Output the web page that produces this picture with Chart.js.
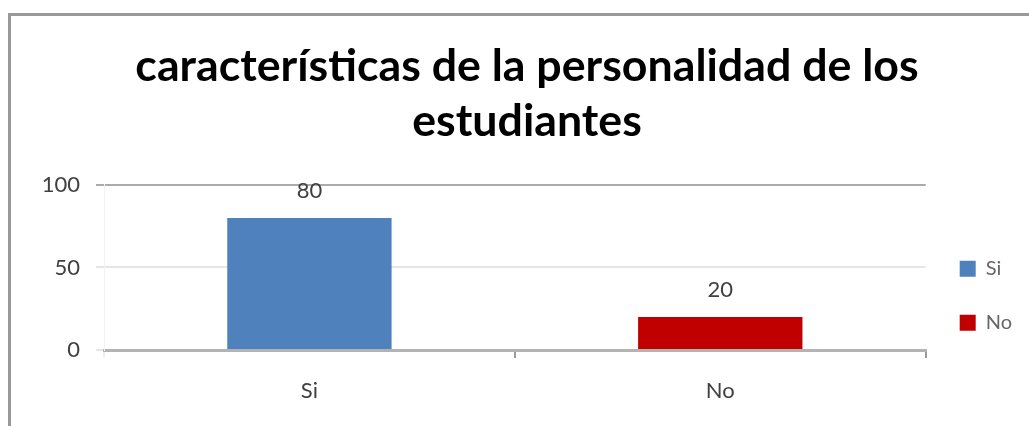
<!DOCTYPE html>
<html>
<head>
<meta charset="utf-8">
<script src="https://cdn.jsdelivr.net/npm/chart.js@4/dist/chart.umd.min.js"></script>
<style>
    html, body { margin: 0; padding: 0; background: #fff; }
    #wrap { position: relative; width: 1029px; height: 426px; overflow: hidden; }
    #frame { position: absolute; left: 8px; top: 13px; width: 1100px; height: 500px;
             border-top: 3px solid #999; border-left: 3px solid #999; }
    #chart { position: absolute; left: 0; top: 0; }
</style>
</head>
<body>
<div id="wrap">
    <div id="frame"></div>
    <canvas id="chart" width="1029" height="426"></canvas>
</div>
<script>
// chart data
const categories = ['Si', 'No'];
const values = [80, 20];
const barColors = ['#4f81bd', '#c00000'];
const titleLines = ['características de la personalidad de los', 'estudiantes'];
const yTicks = [0, 50, 100];

const font = 'Lato, Calibri, sans-serif';

// Draws the value above each bar
const valueLabels = {
    id: 'valueLabels',
    afterDatasetsDraw(chart) {
        const ctx = chart.ctx;
        const meta = chart.getDatasetMeta(0);
        ctx.save();
        ctx.font = '22px ' + font;
        ctx.fillStyle = '#404040';
        ctx.textAlign = 'center';
        ctx.textBaseline = 'middle';
        meta.data.forEach((bar, i) => {
            ctx.fillText(values[i], bar.x, bar.y - 27);
        });
        ctx.restore();
    }
};

const ctx = document.getElementById('chart').getContext('2d');
new Chart(ctx, {
    type: 'bar',
    data: {
        labels: categories,
        datasets: [{
            data: values,
            backgroundColor: barColors,
            categoryPercentage: 0.4,
            barPercentage: 1
        }]
    },
    options: {
        responsive: false,
        animation: false,
        layout: { padding: { left: 32, right: 7, top: 39, bottom: 16 } },
        plugins: {
            title: {
                display: true,
                text: titleLines,
                color: '#000',
                font: { family: font, size: 44.7, weight: 'bold', lineHeight: 1.23 },
                padding: { top: 0, bottom: 36 }
            },
            legend: {
                position: 'right',
                title: {
                    display: true,
                    text: '',
                    padding: { top: 128, bottom: 0 }
                },
                labels: {
                    color: '#222',
                    font: { family: font, size: 20 },
                    boxWidth: 16,
                    boxHeight: 16,
                    padding: 34,
                    generateLabels: () => categories.map((c, i) => ({
                        text: c,
                        fillStyle: barColors[i],
                        strokeStyle: barColors[i],
                        lineWidth: 0,
                        index: i
                    }))
                }
            },
            tooltip: { enabled: false }
        },
        scales: {
            x: {
                afterFit: (s) => { s.height = 60; },
                grid: {
                    offset: true,
                    drawOnChartArea: false,
                    tickLength: 8,
                    lineWidth: 2,
                    color: (c) => c.index === 0 ? '#f0f0f0' : '#999'
                },
                border: { color: '#b3b3b3', width: 3 },
                ticks: {
                    color: '#404040',
                    font: { family: font, size: 22 },
                    padding: 20
                }
            },
            y: {
                min: 0,
                max: 100,
                afterFit: (s) => { s.width = 72; },
                afterBuildTicks: (s) => { s.ticks = yTicks.map(v => ({ value: v })); },
                grid: {
                    tickLength: 8,
                    lineWidth: 2,
                    color: (c) => c.tick && c.tick.value === 100 ? '#ababab' : '#e6e6e6'
                },
                border: { color: '#f2f2f2', width: 1 },
                ticks: {
                    color: '#404040',
                    font: { family: font, size: 22 },
                    padding: 16
                }
            }
        }
    },
    plugins: [valueLabels]
});
</script>
</body>
</html>
